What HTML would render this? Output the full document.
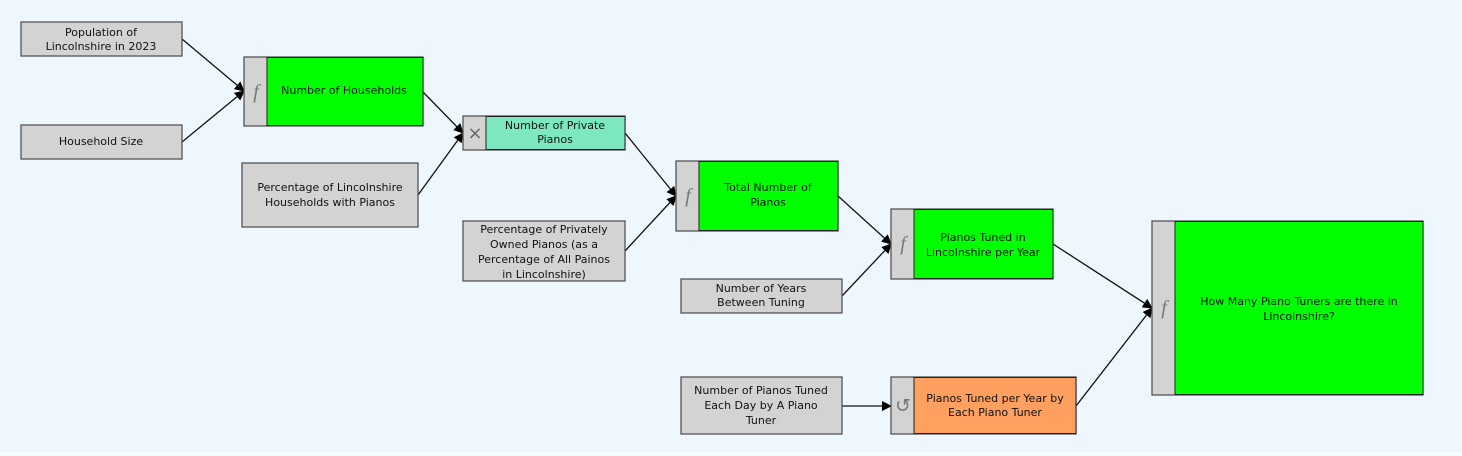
<!DOCTYPE html>
<html><head><meta charset="utf-8"><style>
html,body{margin:0;padding:0;background:#eef6fe;}
svg{display:block;font-family:"DejaVu Sans","Liberation Sans",sans-serif;}
</style></head><body>
<svg width="1462" height="456" viewBox="0 0 1462 456" xmlns="http://www.w3.org/2000/svg">
<defs><marker id="a" markerWidth="10" markerHeight="10" refX="9" refY="5" orient="auto" markerUnits="userSpaceOnUse"><path d="M0,0 L10,5 L0,10 z" fill="#000"/></marker></defs>
<rect x="0" y="0" width="1462" height="456" fill="#eef6fe"/>
<rect x="0" y="452" width="1462" height="4" fill="#f8fbff"/>
<g stroke="#111" stroke-width="1.3" fill="none" marker-end="url(#a)">
<line x1="182" y1="39" x2="244" y2="91"/>
<line x1="182" y1="142" x2="244" y2="91"/>
<line x1="423" y1="92" x2="463" y2="133"/>
<line x1="418" y1="195" x2="463" y2="133"/>
<line x1="625" y1="133" x2="676" y2="196"/>
<line x1="625" y1="251" x2="676" y2="196"/>
<line x1="838" y1="196" x2="891" y2="244"/>
<line x1="842" y1="296" x2="891" y2="244"/>
<line x1="1053" y1="244" x2="1152" y2="308"/>
<line x1="842" y1="406" x2="891" y2="406"/>
<line x1="1076" y1="406" x2="1152" y2="308"/>
</g>
<g stroke="#555" stroke-width="1.3" fill="#d3d3d3">
<rect x="21" y="22" width="161" height="34"/>
<rect x="21" y="125" width="161" height="34"/>
<rect x="242" y="163" width="176" height="64"/>
<rect x="463" y="221" width="162" height="60"/>
<rect x="681" y="279" width="161" height="34"/>
<rect x="681" y="377" width="161" height="57"/>
<rect x="244" y="57" width="179" height="69"/>
<rect x="463" y="116" width="162" height="34"/>
<rect x="676" y="161" width="162" height="70"/>
<rect x="891" y="209" width="162" height="70"/>
<rect x="891" y="377" width="185" height="57"/>
<rect x="1152" y="221" width="271" height="174"/>
</g>
<g stroke="#222" stroke-width="1">
<rect x="267" y="57.5" width="156" height="68" fill="#00ff00"/>
<rect x="486" y="116.5" width="139" height="33" fill="#7de8c0"/>
<rect x="699" y="161.5" width="139" height="69" fill="#00ff00"/>
<rect x="914" y="209.5" width="139" height="69" fill="#00ff00"/>
<rect x="914" y="377.5" width="162" height="56" fill="#ffa060"/>
<rect x="1175" y="221.5" width="248" height="173" fill="#00ff00"/>
</g>
<g font-family="Liberation Serif,serif" font-style="italic" font-size="20" fill="#777" text-anchor="middle">
<text x="256" y="98">f</text><text x="688" y="202">f</text><text x="903" y="250">f</text><text x="1164" y="314">f</text>
</g>
<text x="475" y="139" font-size="18" fill="#666" text-anchor="middle">×</text>
<text x="903" y="412" font-size="19" fill="#777" text-anchor="middle">↺</text>
<g font-size="11" fill="#111" text-anchor="middle">
<text x="101" y="36">Population of</text><text x="101" y="50">Lincolnshire in 2023</text>
<text x="101" y="145">Household Size</text>
<text x="344" y="94">Number of Households</text>
<text x="330" y="191">Percentage of Lincolnshire</text><text x="330" y="206">Households with Pianos</text>
<text x="555" y="129">Number of Private</text><text x="555" y="143">Pianos</text>
<text x="544" y="233">Percentage of Privately</text><text x="544" y="248">Owned Pianos (as a</text><text x="544" y="263">Percentage of All Painos</text><text x="544" y="278">in Lincolnshire)</text>
<text x="768" y="191">Total Number of</text><text x="768" y="206">Pianos</text>
<text x="761" y="292">Number of Years</text><text x="761" y="306">Between Tuning</text>
<text x="983" y="241">Pianos Tuned in</text><text x="983" y="256">Lincolnshire per Year</text>
<text x="761" y="394">Number of Pianos Tuned</text><text x="761" y="409">Each Day by A Piano</text><text x="761" y="424">Tuner</text>
<text x="995" y="402">Pianos Tuned per Year by</text><text x="995" y="416">Each Piano Tuner</text>
<text x="1299" y="305">How Many Piano Tuners are there in</text><text x="1299" y="320">Lincolnshire?</text>
</g>
</svg>
</body></html>
